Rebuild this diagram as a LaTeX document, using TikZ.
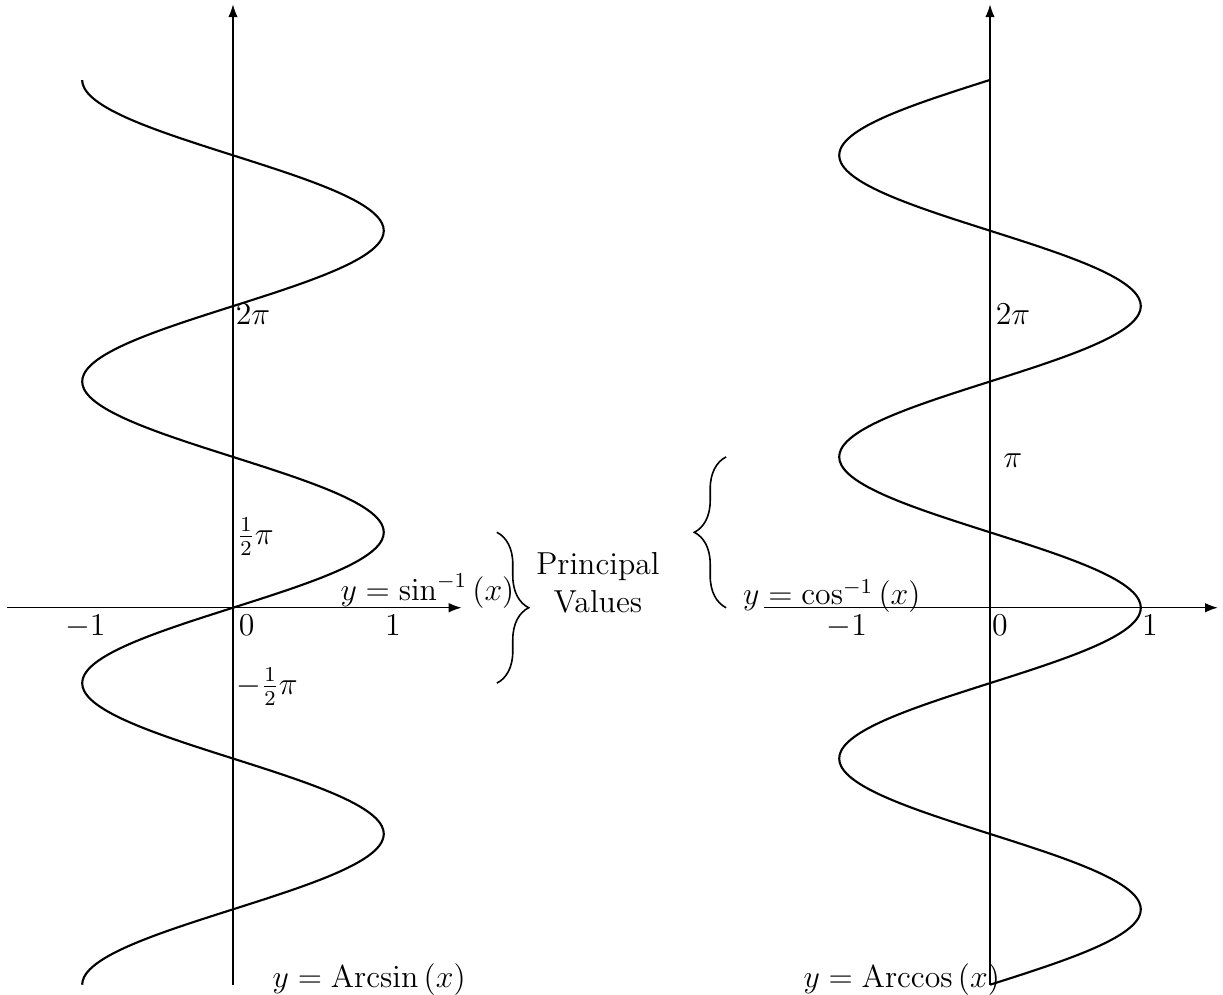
\documentclass[12pt,tikz,border=0pt]{standalone}
\usepackage{amsmath}
\usetikzlibrary{
  arrows.meta,
  calc,
  decorations.pathreplacing
}
\tikzset{
  >=Latex,
  axis/.style={draw=black, ->},
  graph/.style={draw=black, thick, smooth},
  lbl/.style={inner sep=0pt, anchor=base west},
  ticklbl/.style={inner sep=0pt, anchor=base},
  pvbrace/.style={draw=black, semithick, decorate, decoration={brace, amplitude=12pt}}
}

\begin{document}
\begin{tikzpicture}
  \useasboundingbox (-3.09,-5.13) rectangle (13.13,8.06);

  % Arcsin: x = sin(y), y in units of pi/2
  \coordinate (sinO) at (0,0);
  \draw[axis] (-3,0) -- (3.03,0);
  \draw[axis] (0,-5) -- (0,8);
  \draw[graph] plot[domain=-5:7, samples=241] ({2*sin(90*\x)}, \x);

  \node[lbl] (sinTwoPi) at (0.03,3.75) {$2\pi$};
  \node[lbl] (sinHalfPi) at (0.05,0.84) {$\frac{1}{2}\pi$};
  \node[lbl] (sinNegHalfPi) at (0.04,-1.15) {$-\frac{1}{2}\pi$};
  \node[ticklbl] (sinTickM) at (-1.96,-0.37) {$-1$};
  \node[lbl] (sinTickO) at (0.07,-0.37) {$0$};
  \node[ticklbl] (sinTickP) at (2.12,-0.37) {$1$};
  \node[lbl] (sinInv) at (1.42,0.1) {$y=\sin^{-1}\left(x\right)$};
  \node[lbl] (arcsin) at (0.52,-5.04) {$y=\operatorname{Arcsin}\left(x\right)$};

  % principal values
  \draw[pvbrace] (3.5,1) -- (3.5,-1);
  \node[inner sep=0pt, anchor=north, align=center,
    font=\fontsize{12}{14.5}\selectfont] (principal) at (4.84,0.74) {Principal\\Values};
  \draw[pvbrace] (6.54,0) -- (6.54,2);

  % Arccos: x = cos(y)
  \coordinate (cosO) at (10.04,0);
  \draw[axis] (7.04,0) -- (13.06,0);
  \draw[axis] (10.04,-5) -- (10.04,8);
  \draw[graph] plot[domain=-5:7, samples=241] ({10.04+2*cos(90*\x)}, \x);

  \node[lbl] (cosTwoPi) at (10.11,3.75) {$2\pi$};
  \node[lbl] (cosPi) at (10.21,1.86) {$\pi$};
  \node[ticklbl] (cosTickM) at (8.14,-0.37) {$-1$};
  \node[lbl] (cosTickO) at (10.06,-0.37) {$0$};
  \node[ticklbl] (cosTickP) at (12.16,-0.37) {$1$};
  \node[lbl] (cosInv) at (6.76,0.04) {$y=\cos^{-1}\left(x\right)$};
  \node[lbl] (arccos) at (7.56,-5.04) {$y=\operatorname{Arccos}\left(x\right)$};
\end{tikzpicture}
\end{document}
